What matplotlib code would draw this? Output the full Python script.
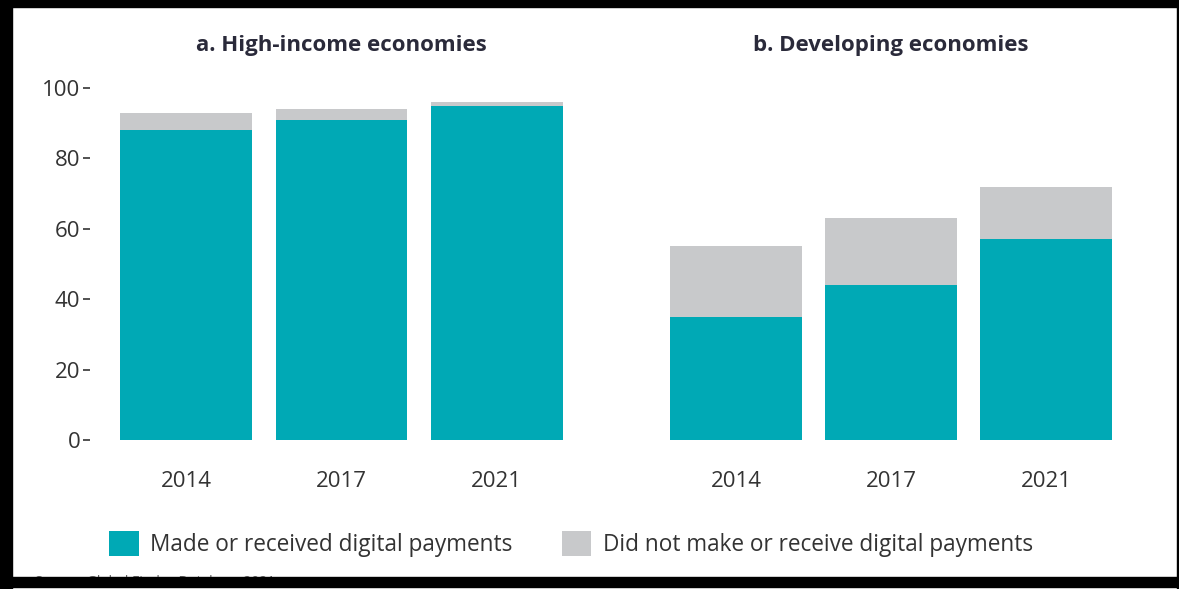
import matplotlib
matplotlib.use('Agg')
import matplotlib.pyplot as plt
from matplotlib.patches import Patch, Rectangle
import numpy as np

years = ['2014', '2017', '2021']
high_digital = [88, 91, 95]
high_account_total = [93, 94, 96]
dev_digital = [35, 44, 57]
dev_account_total = [55, 63, 72]
panel_titles = ['a. High-income economies', 'b. Developing economies']
legend_labels = ['Made or received digital payments',
                 'Did not make or receive digital payments']
y_ticks = [0, 20, 40, 60, 80, 100]

TEAL = '#00A9B5'
GRAY = '#C8C9CB'
W, H = 1179, 589

plt.rcParams['font.family'] = ['Open Sans', 'DejaVu Sans']

fig = plt.figure(figsize=(W / 100, H / 100), dpi=100)

# axes boxes in pixel coords (left, bottom-from-top, right, top-from-top)
boxes = [(90, 440, 593, 88), (640, 440, 1142, 88)]
data = [(high_digital, high_account_total), (dev_digital, dev_account_total)]

x = np.arange(len(years))
for i, ((l, b, r, t), (dig, tot)) in enumerate(zip(boxes, data)):
    ax = fig.add_axes([l / W, 1 - b / H, (r - l) / W, (b - t) / H])
    rest = [tt - d for tt, d in zip(tot, dig)]
    ax.bar(x, dig, width=0.85, color=TEAL)
    ax.bar(x, rest, bottom=dig, width=0.85, color=GRAY)
    ax.set_xlim(-0.62, 2.62)
    ax.set_ylim(0, 100)
    for s in ax.spines.values():
        s.set_visible(False)
    ax.set_xticks(x)
    ax.set_xticklabels(years, fontsize=16, color='#333333')
    ax.tick_params(axis='x', length=0, pad=22)
    ax.set_yticks(y_ticks)
    if i == 0:
        ax.set_yticklabels([str(v) for v in y_ticks], fontsize=16, color='#333333')
        ax.tick_params(axis='y', length=5, width=1.2, pad=2, color='#333333')
    else:
        ax.tick_params(axis='y', length=0, labelleft=False)
    ax.set_title(panel_titles[i], fontsize=16, fontweight='bold',
                 color='#2a2a3a', pad=27)

handles = [Patch(facecolor=TEAL), Patch(facecolor=GRAY)]
fig.legend(handles, legend_labels, loc='center', bbox_to_anchor=(571 / W, 1 - 544 / H),
           ncol=2, frameon=False, fontsize=16.3, handlelength=1.3, handleheight=1.3,
           handletextpad=0.5, columnspacing=2.2, labelcolor='#333333')

fig.text(35 / W, 1 - 583 / H, 'Source: Global Findex Database 2021',
         fontsize=10, color='#666666', va='center')

# black frame around the screenshot
frame = [(0, 0, W, 7), (0, 0, 12, H), (0, 577, W, 10), (1177, 0, 2, H)]
for fx, fy, fw, fh in frame:
    fig.patches.append(Rectangle((fx / W, 1 - (fy + fh) / H), fw / W, fh / H,
                                 transform=fig.transFigure, color='black', zorder=10))

fig.savefig('out.png', dpi=100)
